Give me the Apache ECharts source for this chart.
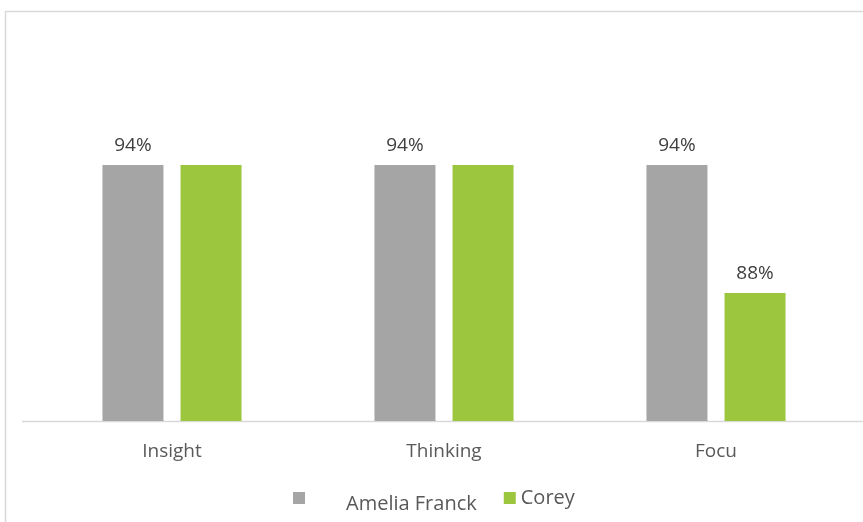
<!DOCTYPE html>
<html>
<head>
<meta charset="utf-8">
<script src="https://cdn.jsdelivr.net/npm/echarts@6/dist/echarts.min.js"></script>
<style>html,body{margin:0;padding:0;background:#fff}#c{width:863px;height:522px}</style>
</head>
<body>
<div id="c"></div>
<script>
const categories = ['Insight', 'Thinking', 'Focu'];
const ameliaValues = [94, 94, 94];
const coreyValues = [94, 94, 88];
const coreyLabelShown = [false, false, true];

const chart = echarts.init(document.getElementById('c'), null, {renderer: 'canvas'});
const font = '"Open Sans", sans-serif';
chart.setOption({
  animation: false,
  backgroundColor: '#fff',
  graphic: [
    {type: 'rect', shape: {x: 5.5, y: 11.5, width: 900, height: 600}, style: {fill: 'none', stroke: '#d9d9d9', lineWidth: 1.5}, silent: true},
    {type: 'line', shape: {x1: 22, y1: 421.5, x2: 863, y2: 421.5}, style: {stroke: '#d9d9d9', lineWidth: 1.5}, silent: true, z: 0}
  ],
  grid: {left: 36, right: 11, top: 37, bottom: 101, containLabel: false},
  xAxis: {
    type: 'category', data: categories,
    axisLine: {show: false}, axisTick: {show: false},
    axisLabel: {color: '#595959', fontFamily: font, fontSize: 19, margin: 21}
  },
  yAxis: {type: 'value', min: 82, max: 100, show: false, splitLine: {show: false}},
  legend: {
    top: 488, left: 293, itemWidth: 12, itemHeight: 12, itemGap: 27, padding: 0,
    icon: 'rect',
    data: [
      {name: 'Amelia Franck', textStyle: {rich: {a: {padding: [12, 0, 0, 36], fontSize: 20, fontFamily: font, color: '#595959'}}}},
      {name: 'Corey'}
    ],
    formatter: function (n) { return n === 'Amelia Franck' ? '{a|' + n + '}' : n; },
    textStyle: {color: '#595959', fontFamily: font, fontSize: 20}
  },
  series: [
    {
      name: 'Amelia Franck', type: 'bar', data: ameliaValues, barWidth: 61, barGap: '28%',
      itemStyle: {color: '#a5a5a5'},
      label: {show: true, position: 'top', distance: 10, formatter: '{c}%', color: '#404040', fontFamily: font, fontSize: 19}
    },
    {
      name: 'Corey', type: 'bar', barWidth: 61,
      data: coreyValues.map((v, i) => ({value: v, label: {show: coreyLabelShown[i]}})),
      itemStyle: {color: '#9dc63f'},
      label: {show: true, position: 'top', distance: 10, formatter: '{c}%', color: '#404040', fontFamily: font, fontSize: 19}
    }
  ]
});
</script>
</body>
</html>
